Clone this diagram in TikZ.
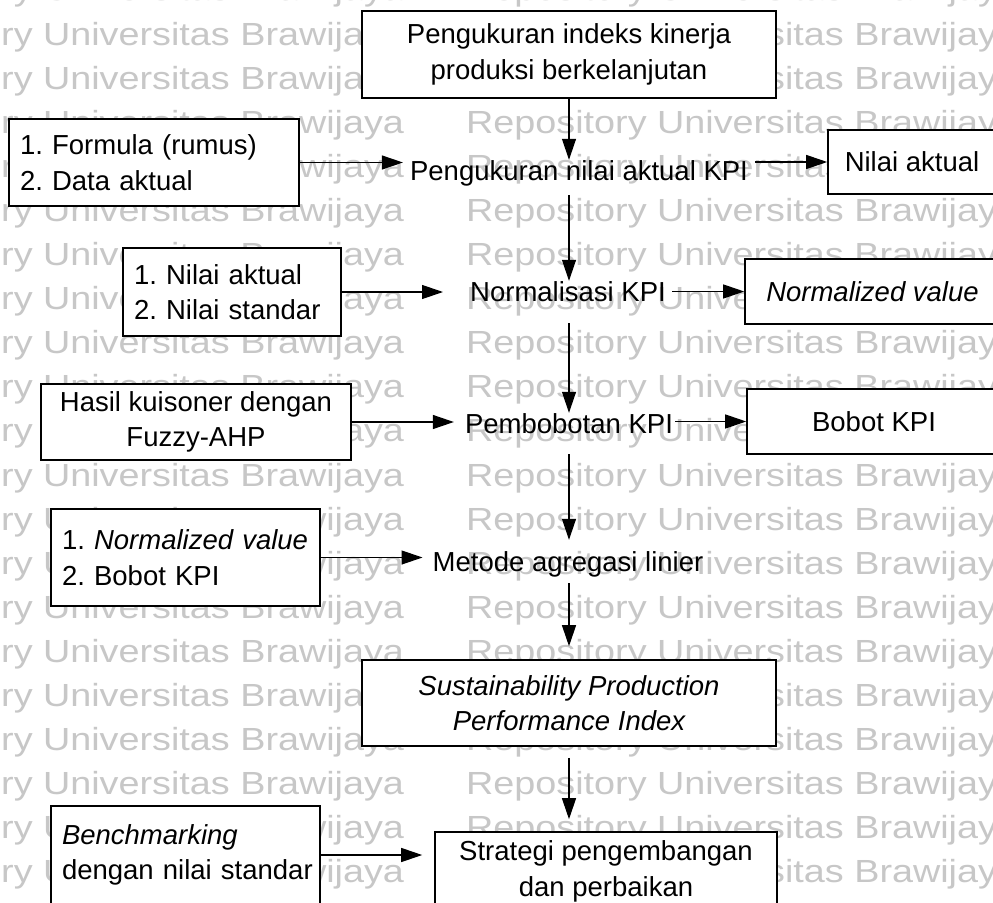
\documentclass[tikz,border=0pt]{standalone}
\usepackage{fontspec}
\setmainfont{Liberation Sans}
\newfontfamily\wmfont[FakeStretch=1.18]{Liberation Sans}
\usetikzlibrary{arrows.meta,calc}
\frenchspacing

\tikzset{
  box/.style={draw=black, line width=1.6pt, fill=white, inner sep=0pt,
    font=\fontsize{27.5}{35.5}\selectfont\frenchspacing},
  cbox/.style={box, align=center},
  lbox/.style={box, inner xsep=11pt, align=left},
  lbl/.style={inner sep=0pt, anchor=base, text height=20pt, text depth=6pt,
    font=\fontsize{27.5}{35.5}\selectfont},
  arr/.style={line width=1.2pt, -{Triangle[length=21pt,width=14pt]}},
  wm/.style={inner sep=0pt, anchor=base west, text=black!22,
    font=\wmfont\fontsize{32}{38}\selectfont}
}

\begin{document}
\begin{tikzpicture}[x=1pt,y=-1pt]
\useasboundingbox (0,0) rectangle (993,902);
\clip (0,0) rectangle (993,902);
\fill[white] (0,0) rectangle (993,902);

% repository watermark rows
\foreach \k in {-1,...,19}{
  \node[wm] (wmL\k) at (-148,{45+44.1*\k}) {Repository Universitas Brawijaya};
  \node[wm] (wmR\k) at (466,{45+44.1*\k}) {Repository Universitas Brawijaya};
}

% main column
\node[cbox, minimum width=414pt, minimum height=87pt] (top) at (569,54.5)
  {Pengukuran indeks kinerja\\produksi berkelanjutan};
\node[lbl] (n1) at (579,180) {Pengukuran nilai aktual KPI};
\node[lbl] (n2) at (568,301) {Normalisasi KPI};
\node[lbl] (n3) at (569,433) {Pembobotan KPI};
\node[lbl] (n4) at (568,571) {Metode agregasi linier};
\node[cbox, minimum width=414pt, minimum height=86pt] (sppi) at (569,703)
  {\itshape Sustainability Production\\\itshape Performance Index};
\node[cbox, minimum width=342pt, minimum height=79pt] (strat) at (606,871.5)
  {Strategi pengembangan\\dan perbaikan};

% inputs on the left
\node[lbox, text width=268pt, minimum width=290pt, minimum height=87pt] (b2) at (154,162.5)
  {\mbox{1. Formula (rumus)}\\\mbox{2. Data aktual}};
\node[lbox, text width=196pt, minimum width=218pt, minimum height=88pt] (b3) at (232,292)
  {\mbox{1. Nilai aktual}\\\mbox{2. Nilai standar}};
\node[cbox, minimum width=310pt, minimum height=76pt] (b4) at (196,422)
  {Hasil kuisoner dengan\\Fuzzy-AHP};
\node[lbox, text width=247pt, minimum width=269pt, minimum height=97pt] (b5) at (185.5,557.5)
  {\mbox{1. \textit{Normalized value}}\\\mbox{2. Bobot KPI}};
\node[lbox, text width=247pt, minimum width=269pt, minimum height=98pt] (b6) at (185.5,855)
  {\mbox{\textit{Benchmarking}}\\\mbox{dengan nilai standar}};

% outputs on the right
\node[cbox, minimum width=168pt, minimum height=64pt] (nva) at (912,162) {Nilai aktual};
\node[cbox, minimum width=255pt, minimum height=65pt] (nvn) at (872.5,291.5) {\itshape Normalized value};
\node[cbox, minimum width=254pt, minimum height=65pt] (nbb) at (874,421.5) {Bobot KPI};

% vertical flow
\draw[arr] (top.south) -- (top.south |- n1.north);
\draw[arr, shorten <=9pt] (top.south |- n1.south) -- (top.south |- n2.north);
\draw[arr, shorten <=16pt] (top.south |- n2.south) -- (top.south |- n3.north);
\draw[arr, shorten <=15pt, shorten >=11pt] (top.south |- n3.south) -- (top.south |- n4.north);
\draw[arr, shorten <=6pt, shorten >=13pt] (top.south |- n4.south) -- (sppi.north);
\draw[arr, shorten <=11pt, shorten >=12pt] (sppi.south) -- (sppi.south |- strat.north);

% inputs into the steps
\draw[arr, shorten >=7pt] (b2.east) -- (b2.east -| n1.west);
\draw[arr, shorten >=27pt] (b3.east) -- (b3.east -| n2.west);
\draw[arr, shorten >=11pt] (b4.east) -- (b4.east -| n3.west);
\draw[arr, shorten >=10pt] (b5.east) -- (b5.east -| n4.west);
\draw[arr, shorten >=12pt] (b6.east) -- (b6.east -| strat.west);

% results out of the steps
\draw[arr, shorten <=7pt] (n1.east |- nva.west) -- (nva.west);
\draw[arr, shorten <=6pt] (n2.east |- nvn.west) -- (nvn.west);
\draw[arr, shorten <=2pt] (n3.east |- nbb.west) -- (nbb.west);
\end{tikzpicture}
\end{document}
